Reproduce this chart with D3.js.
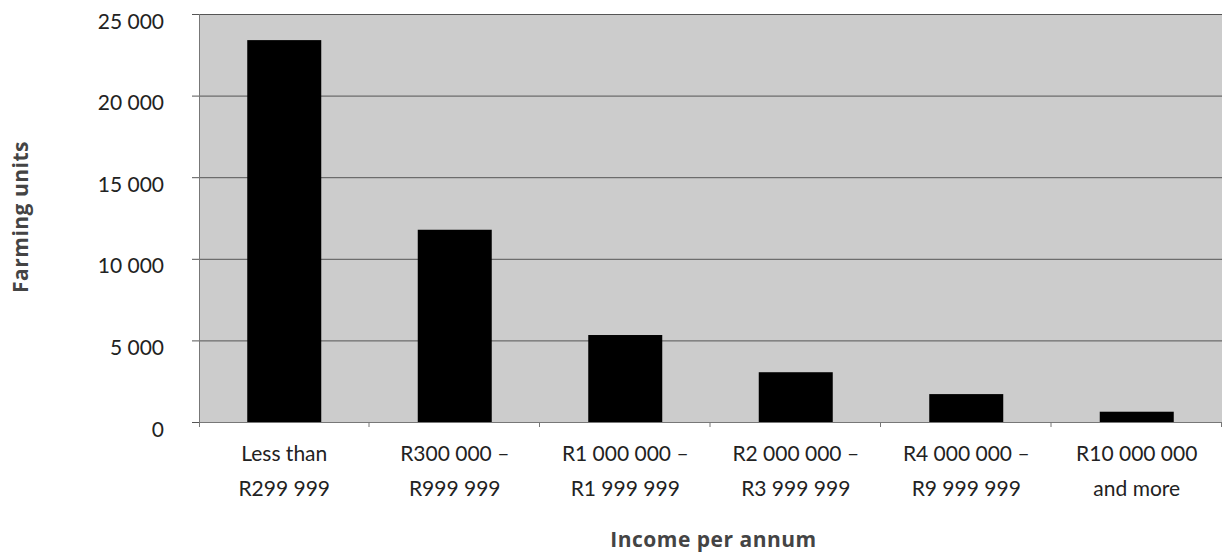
<!DOCTYPE html>
<html>
<head>
<meta charset="utf-8">
<script src="https://cdn.jsdelivr.net/npm/d3@7"></script>
<style>
  html, body { margin: 0; padding: 0; background: #fff; }
  svg { display: block; }
</style>
</head>
<body>
<svg id="chart" width="1225" height="553"></svg>
<script>
// Income groups (two-line labels) and number of farming units per group
const categories = [
  ["Less than", "R299 999"],
  ["R300 000 \u2013", "R999 999"],
  ["R1 000 000 \u2013", "R1 999 999"],
  ["R2 000 000 \u2013", "R3 999 999"],
  ["R4 000 000 \u2013", "R9 999 999"],
  ["R10 000 000", "and more"]
];
const farmingUnits = [23400, 11780, 5330, 3050, 1710, 630];
const yTicks = [0, 5000, 10000, 15000, 20000, 25000];

const svg = d3.select("#chart");
const plot = { left: 199, right: 1222, top: 14, bottom: 422 };

const keys = categories.map((c, i) => i);
const x = d3.scaleBand().domain(keys).range([plot.left, plot.right]).paddingInner(0.566).paddingOuter(0.283);
const xOuter = d3.scaleBand().domain(keys).range([plot.left, plot.right]);
const y = d3.scaleLinear().domain([0, 25000]).range([plot.bottom, plot.top]);

const fmt = v => d3.format(",")(v).replace(/,/g, " ");
const labelFont = "Lato, 'Open Sans', sans-serif";
const titleFont = "'Open Sans', 'Noto Sans', sans-serif";

// plot background
svg.append("rect")
  .attr("x", plot.left).attr("y", plot.top)
  .attr("width", plot.right - plot.left).attr("height", plot.bottom - plot.top)
  .attr("fill", "#cccccc");

// horizontal gridlines with left tick marks
const yAxis = d3.axisLeft(y).tickValues(yTicks).tickFormat(fmt)
  .tickSizeInner(-(plot.right - plot.left)).tickSizeOuter(0).tickPadding(35);
const gy = svg.append("g").attr("transform", `translate(${plot.left},0)`).call(yAxis);
gy.select(".domain").remove();
gy.selectAll(".tick line")
  .attr("x1", -7)
  .attr("stroke", "#555").attr("stroke-width", 1);
gy.selectAll(".tick text")
  .attr("dy", "0.67em")
  .attr("y", 0)
  .attr("font-family", labelFont)
  .attr("font-size", 21).attr("fill", "#222");

// bars
svg.append("g").selectAll("rect").data(farmingUnits).join("rect")
  .attr("x", (d, i) => x(i))
  .attr("width", x.bandwidth())
  .attr("y", d => y(d))
  .attr("height", d => y(0) - y(d))
  .attr("fill", "#000");

// vertical axis line
svg.append("line")
  .attr("x1", plot.left + 0.5).attr("x2", plot.left + 0.5)
  .attr("y1", plot.top).attr("y2", plot.bottom + 5)
  .attr("stroke", "#777");

// horizontal axis line with category boundary ticks
svg.append("line")
  .attr("x1", plot.left).attr("x2", plot.right)
  .attr("y1", plot.bottom + 0.5).attr("y2", plot.bottom + 0.5)
  .attr("stroke", "#777");
svg.append("g").selectAll("line").data(keys).join("line")
  .attr("x1", d => xOuter(d) + xOuter.bandwidth() - 0.5)
  .attr("x2", d => xOuter(d) + xOuter.bandwidth() - 0.5)
  .attr("y1", plot.bottom).attr("y2", plot.bottom + 5)
  .attr("stroke", "#777");

// category labels
const lab = svg.append("g").selectAll("text").data(categories).join("text")
  .attr("text-anchor", "middle")
  .attr("font-family", labelFont)
  .attr("font-size", 21).attr("fill", "#222");
lab.each(function (d, i) {
  const t = d3.select(this);
  d.forEach((line, j) => {
    t.append("tspan")
      .attr("x", xOuter(i) + xOuter.bandwidth() / 2)
      .attr("y", 461 + j * 35)
      .text(line);
  });
});

// axis titles
svg.append("text")
  .attr("x", (plot.left + plot.right) / 2 + 3).attr("y", 547)
  .attr("text-anchor", "middle")
  .attr("font-family", titleFont)
  .attr("font-weight", "bold").attr("font-size", 21)
  .attr("letter-spacing", 0.5).attr("fill", "#444")
  .text("Income per annum");

svg.append("text")
  .attr("transform", "translate(28,217) rotate(-90)")
  .attr("text-anchor", "middle")
  .attr("font-family", titleFont)
  .attr("font-weight", "bold").attr("font-size", 21)
  .attr("letter-spacing", 0.5).attr("fill", "#444")
  .text("Farming units");
</script>
</body>
</html>
